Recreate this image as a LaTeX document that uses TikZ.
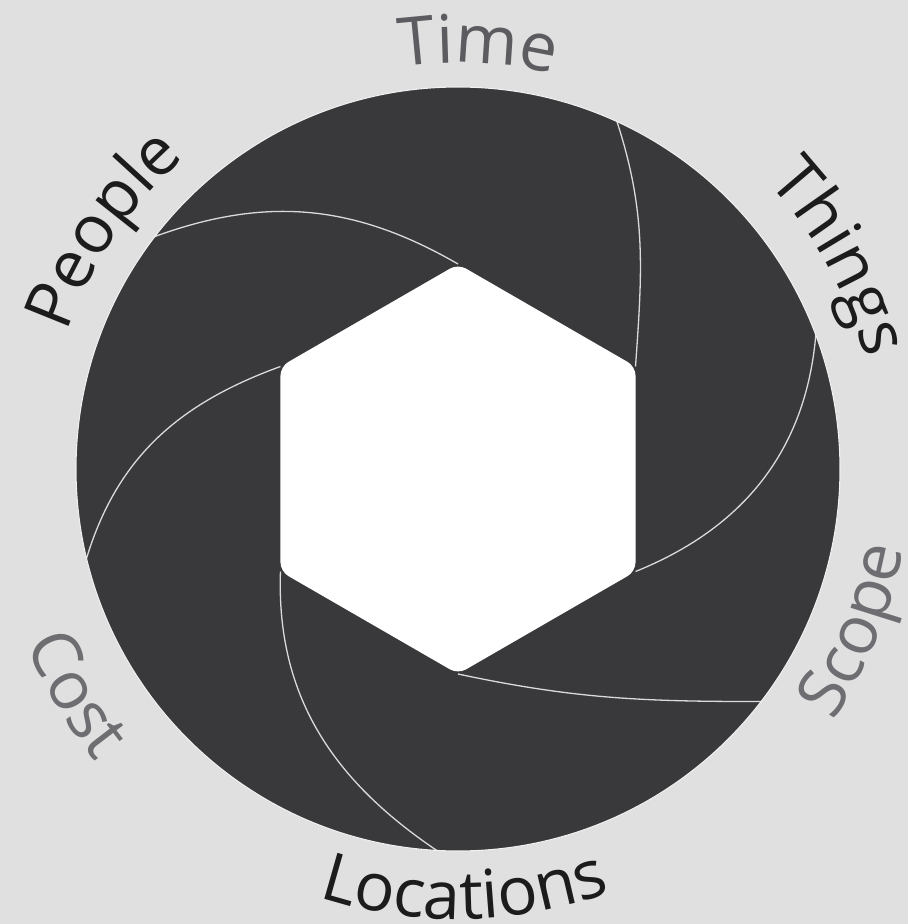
\documentclass[tikz,border=0pt]{standalone}
\usepackage{fontspec}
\newfontfamily\lblfont{Open Sans}
\usetikzlibrary{decorations.text}
\definecolor{bgcol}{HTML}{E0E0E0}
\definecolor{irisfill}{HTML}{39383B}
\definecolor{bladecol}{HTML}{DADADA}
\definecolor{rimcol}{HTML}{F0F0F0}
\definecolor{lbldark}{HTML}{1C1C1C}
\definecolor{lblgray}{HTML}{5C5C60}
\definecolor{lblpale}{HTML}{6E6E72}
\tikzset{
  x=1pt,y=1pt,
  irisdisc/.style={fill=irisfill},
  irisrim/.style={draw=rimcol,line width=1.1pt},
  hexhole/.style={fill=white,rounded corners=9pt},
  blade/.style={draw=bladecol,line width=1.3pt},
  arclbl/.style 2 args={decorate,decoration={text along path,text align=center,
    text color=#1,text={|\lblfont\fontsize{67}{78}\selectfont|#2}}},
}
\begin{document}
\begin{tikzpicture}
  \useasboundingbox (-458,-455) rectangle (450,469);
  \fill[bgcol] (-458,-455) rectangle (450,469);
  \coordinate (o) at (0,0);
  \fill[irisdisc] (o) circle[radius=382pt];
  % hexagon corners and where the blades meet the rim
  \foreach \a [count=\i] in {90,30,-30,-90,-150,150}
    \coordinate (v\i) at (\a:205pt);
  \coordinate (r1) at (142.5:382pt);
  \coordinate (r2) at (65.4:382pt);
  \coordinate (r3) at (20.5:382pt);
  \coordinate (r4) at (-37.5:382pt);
  \coordinate (r5) at (-93.2:382pt);
  \coordinate (r6) at (193.5:382pt);
  \draw[blade] (v1) to[out=150,in=20] (r1);
  \draw[blade] (v2) to[out=86,in=-72] (r2);
  \draw[blade] (v3) to[out=22,in=-95] (r3);
  \draw[blade] (v4) to[out=-12,in=180] (r4);
  \draw[blade] (v5) to[out=268,in=146] (r5);
  \draw[blade] (v6) to[out=200,in=73] (r6);
  \fill[hexhole] (v1) -- (v2) -- (v3) -- (v4) -- (v5) -- (v6) -- cycle;
  \draw[irisrim] (o) circle[radius=382pt];
  % labels round the rim
  \path[arclbl={lblgray}{Time}] (122.3:406pt) arc[start angle=122.3,end angle=52.3,radius=406pt];
  \path[arclbl={lbldark}{Things}] (64:422pt) arc[start angle=64,end angle=-6,radius=422pt];
  \path[arclbl={lbldark}{People}] (181:414pt) arc[start angle=181,end angle=111,radius=414pt];
  \path[arclbl={lbldark}{Locations}] (-124.1:450pt) arc[start angle=-124.1,end angle=-54.1,radius=450pt];
  \path[arclbl={lblpale}{Cost}] (175.5:466pt) arc[start angle=175.5,end angle=245.5,radius=466pt];
  \path[arclbl={lblpale}{Scope}] (-57:452pt) arc[start angle=-57,end angle=13,radius=452pt];
\end{tikzpicture}
\end{document}
